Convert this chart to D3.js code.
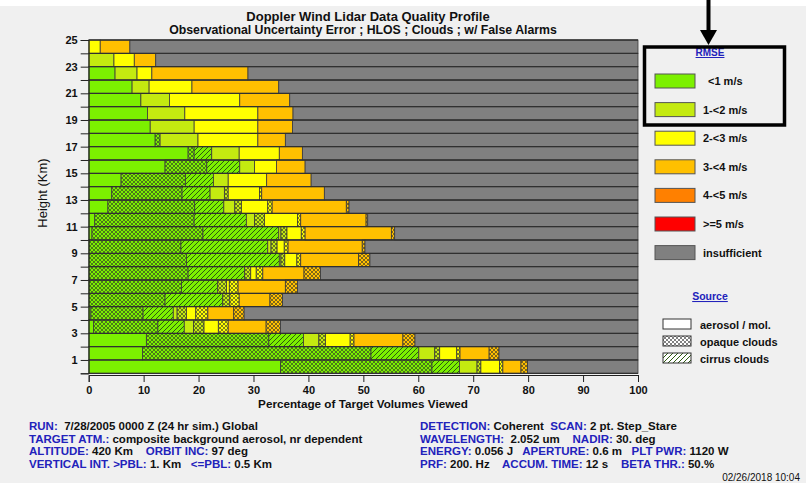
<!DOCTYPE html>
<html>
<head>
<meta charset="utf-8">
<script src="https://cdn.jsdelivr.net/npm/d3@7"></script>
<style>
  body { margin: 0; background: #fff; }
  text { font-family: "Liberation Sans", Arial, sans-serif; }
</style>
</head>
<body>
<div id="chart"></div>
<script>
// rows are 1 km height bins, bottom (0-1 km) first
var heights = d3.range(0, 25);

// percent of target volumes, per RMSE class and source
var green        = [34.9, 9.8, 10.5, 0.9, 0.4, 0, 0, 0, 0, 0, 0.6, 1.1, 3.5, 4.2, 5.9, 13.9, 18.1, 12.1, 11.2, 10.7, 9.5, 7.9, 4.8, 0, 0];
var greenOpaque  = [27.6, 41.6, 22.3, 11.7, 9.5, 13.9, 16.9, 18.1, 17.8, 16.8, 20.2, 18.1, 15.8, 12.8, 11.7, 7.6, 1.1, 0.9, 0, 0, 0, 0, 0, 0, 0];
var greenCirrus  = [5.0, 8.7, 6.3, 4.8, 5.5, 10.5, 6.6, 10.3, 16.9, 15.8, 13.8, 9.5, 5.3, 5.1, 5.1, 6.0, 3.2, 0, 0, 0, 0, 0, 0, 0, 0];
var ygreen       = [3.2, 2.9, 2.8, 1.7, 0.7, 0, 0, 0, 0.3, 0.6, 0.4, 1.5, 2.0, 2.6, 2.7, 2.7, 5.0, 6.9, 8.0, 6.8, 5.2, 3.1, 4.0, 4.6, 0];
var ygreenOpaque = [0.7, 0.9, 1.2, 1.9, 1.7, 1.3, 1.6, 1.1, 0.7, 1.1, 1.1, 1.8, 1.2, 0.7, 0, 0, 0, 0, 0, 0, 0, 0, 0, 0, 0];
var yellow       = [3.4, 3.1, 4.5, 2.6, 1.7, 0, 0.5, 1.0, 2.2, 1.3, 2.6, 6.0, 4.8, 5.7, 7.0, 4.0, 7.3, 10.9, 11.6, 13.3, 12.8, 7.8, 2.7, 3.7, 2.1];
var yellowOpaque = [0.6, 0.6, 0.7, 1.8, 2.2, 1.7, 1.6, 1.2, 0.7, 0.7, 0.7, 0.6, 0.8, 0.4, 0, 0, 0, 0, 0, 0, 0, 0, 0, 0, 0];
var orange       = [3.3, 5.3, 8.9, 6.9, 4.7, 5.6, 8.6, 7.5, 10.5, 13.5, 15.7, 11.9, 13.5, 11.4, 8.1, 5.2, 4.2, 5.0, 6.3, 6.4, 9.1, 15.8, 17.5, 3.9, 5.4];
var orangeOpaque = [1.2, 1.8, 2.2, 2.6, 1.9, 2.3, 2.2, 3.0, 2.1, 0.5, 0.6, 0.3, 0.5, 0, 0, 0, 0, 0, 0, 0, 0, 0, 0, 0, 0];

var xTicks = d3.range(0, 101, 10);
var rmseLabels = ["<1 m/s", "1-<2 m/s", "2-<3 m/s", "3-<4 m/s", "4-<5 m/s", ">=5 m/s", "insufficient"];
var rmseColors = ["#7cf000", "#c4ea10", "#ffff00", "#ffc000", "#ff8000", "#ff0000", "#808080"];
var sourceLabels = ["aerosol / mol.", "opaque clouds", "cirrus clouds"];

var series = [
  { key: "g",   values: green,        color: rmseColors[0], pat: null },
  { key: "gX",  values: greenOpaque,  color: rmseColors[0], pat: "opaque" },
  { key: "gD",  values: greenCirrus,  color: rmseColors[0], pat: "cirrus" },
  { key: "yg",  values: ygreen,       color: rmseColors[1], pat: null },
  { key: "ygX", values: ygreenOpaque, color: rmseColors[1], pat: "opaque" },
  { key: "y",   values: yellow,       color: rmseColors[2], pat: null },
  { key: "yX",  values: yellowOpaque, color: rmseColors[2], pat: "opaque" },
  { key: "o",   values: orange,       color: rmseColors[3], pat: null },
  { key: "oX",  values: orangeOpaque, color: rmseColors[3], pat: "opaque" }
];

var table = heights.map(function (h, i) {
  var row = { height: h }, sum = 0;
  series.forEach(function (s) { row[s.key] = s.values[i]; sum += s.values[i]; });
  row.ins = Math.max(0, 100 - sum);
  return row;
});
var keys = series.map(function (s) { return s.key; }).concat(["ins"]);
var byKey = {};
series.forEach(function (s) { byKey[s.key] = s; });
byKey.ins = { key: "ins", color: rmseColors[6], pat: null };

var width = 810, height = 483;
var svg = d3.select("#chart").append("svg")
  .attr("width", width)
  .attr("height", height);

svg.append("rect").attr("x", 0).attr("y", 6).attr("width", 806).attr("height", height - 6)
  .attr("fill", "#f0f0f0");

var defs = svg.append("defs");
function makePattern(id, color, type) {
  var p = defs.append("pattern").attr("id", id)
    .attr("patternUnits", "userSpaceOnUse");
  if (type == "opaque") {
    p.attr("width", 4).attr("height", 4);
    p.append("rect").attr("width", 4).attr("height", 4).attr("fill", color);
    p.append("path").attr("d", "M0,0L4,4M4,0L0,4")
      .attr("stroke", "#2a2a2a").attr("stroke-width", 0.6).attr("fill", "none");
  } else {
    p.attr("width", 5).attr("height", 5);
    p.append("rect").attr("width", 5).attr("height", 5).attr("fill", color);
    p.append("path").attr("d", "M0,5L5,0M-1,1L1,-1M4,6L6,4")
      .attr("stroke", "#2d5a10").attr("stroke-width", 1).attr("fill", "none");
  }
}
series.forEach(function (s) {
  if (s.pat) makePattern("p-" + s.key, s.color, s.pat);
});
makePattern("p-wX", "#ffffff", "opaque");
makePattern("p-wD", "#ffffff", "cirrus");

var x = d3.scaleLinear().domain([0, 100]).range([88.7, 638]);
var y = d3.scaleLinear().domain([0, 25]).range([373.3, 40]);

var stack = d3.stack().keys(keys);
var layers = stack(table);

var g = svg.append("g");
layers.forEach(function (layer) {
  var s = byKey[layer.key];
  g.selectAll(null)
    .data(layer.filter(function (d) { return d[1] - d[0] > 0; }))
    .enter().append("rect")
    .attr("x", function (d) { return x(d[0]); })
    .attr("y", function (d) { return y(d.data.height + 1); })
    .attr("width", function (d) { return x(d[1]) - x(d[0]); })
    .attr("height", function (d) { return y(d.data.height) - y(d.data.height + 1); })
    .attr("fill", s.pat ? "url(#p-" + s.key + ")" : s.color)
    .attr("stroke", "#3a3a3a")
    .attr("stroke-width", 0.8);
});

// row separators
g.selectAll(".sep")
  .data(d3.range(0, 26))
  .enter().append("line")
  .attr("x1", x(0)).attr("x2", x(100))
  .attr("y1", function (d) { return y(d); })
  .attr("y2", function (d) { return y(d); })
  .attr("stroke", "#303030").attr("stroke-width", 1.3);

// axes
var yAxis = d3.axisLeft(y).tickValues(d3.range(0, 26)).tickSize(8)
  .tickFormat(function (d) { return d % 2 == 1 ? d : ""; });
var ya = svg.append("g").attr("transform", "translate(" + x(0) + ",0)").call(yAxis);
ya.select(".domain").attr("stroke", "#222");
ya.selectAll(".tick line").attr("stroke", "#222");
ya.selectAll("text").attr("font-size", 11).attr("font-weight", "bold").attr("fill", "#111")
  .attr("font-family", "Liberation Sans, Arial, sans-serif");

var xAxis = d3.axisBottom(x).tickValues(xTicks).tickSize(7).tickPadding(4);
var xa = svg.append("g").attr("transform", "translate(0,375)").call(xAxis);
xa.select(".domain").attr("stroke", "#222");
xa.selectAll(".tick line").attr("stroke", "#222");
xa.selectAll("text").attr("font-size", 11).attr("font-weight", "bold").attr("fill", "#111")
  .attr("font-family", "Liberation Sans, Arial, sans-serif");

svg.append("text").attr("x", 363).attr("y", 408).attr("text-anchor", "middle")
  .attr("font-size", 11.7).attr("font-weight", "bold").attr("fill", "#111")
  .text("Percentage of Target Volumes Viewed");

svg.append("text").attr("transform", "translate(47,193) rotate(-90)")
  .attr("text-anchor", "middle").attr("font-size", 13).attr("fill", "#111")
  .text("Height (Km)");

// title
svg.append("text").attr("x", 368).attr("y", 20.5).attr("text-anchor", "middle")
  .attr("font-size", 13).attr("font-weight", "bold").attr("fill", "#111")
  .text("Doppler Wind Lidar Data Quality Profile");
svg.append("text").attr("x", 363).attr("y", 33.5).attr("text-anchor", "middle")
  .attr("font-size", 12.3).attr("font-weight", "bold").attr("fill", "#111")
  .text("Observational Uncertainty Error ; HLOS ; Clouds ; w/ False Alarms");

// RMSE legend
var blue = "#2222bb";
svg.append("text").attr("x", 710).attr("y", 56).attr("text-anchor", "middle")
  .attr("font-size", 10).attr("font-weight", "bold").attr("fill", blue)
  .attr("text-decoration", "underline").text("RMSE");
var leg = svg.append("g").selectAll("g")
  .data(rmseLabels)
  .enter().append("g")
  .attr("transform", function (d, i) { return "translate(655," + (74 + i * 28.6) + ")"; });
leg.append("rect").attr("width", 40).attr("height", 14)
  .attr("fill", function (d, i) { return rmseColors[i]; })
  .attr("stroke", "#555").attr("stroke-width", 1);
leg.append("text").attr("x", function (d, i) { return i == 0 ? 53 : 48; }).attr("y", 11)
  .attr("font-size", 11).attr("font-weight", "bold").attr("fill", "#111")
  .text(function (d) { return d; });

// source legend
svg.append("text").attr("x", 710).attr("y", 300).attr("text-anchor", "middle")
  .attr("font-size", 10.5).attr("font-weight", "bold").attr("fill", blue)
  .attr("text-decoration", "underline").text("Source");
var sleg = svg.append("g").selectAll("g")
  .data(sourceLabels)
  .enter().append("g")
  .attr("transform", function (d, i) { return "translate(663," + (319 + i * 17) + ")"; });
sleg.append("rect").attr("width", 28).attr("height", 10)
  .attr("fill", function (d, i) { return ["#ffffff", "url(#p-wX)", "url(#p-wD)"][i]; })
  .attr("stroke", "#333").attr("stroke-width", 1);
sleg.append("text").attr("x", 37).attr("y", 9.5)
  .attr("font-size", 11).attr("font-weight", "bold").attr("fill", "#111")
  .text(function (d) { return d; });

// highlight box and arrow
svg.append("rect").attr("x", 644.5).attr("y", 47).attr("width", 140).attr("height", 78)
  .attr("fill", "none").attr("stroke", "#000").attr("stroke-width", 3.5);
svg.append("line").attr("x1", 708.5).attr("x2", 708.5).attr("y1", 0).attr("y2", 32)
  .attr("stroke", "#000").attr("stroke-width", 4);
svg.append("path").attr("d", "M700,30L717,30L708.5,45Z").attr("fill", "#000");

// run info
var info = [
  [29, 430, "RUN:", "  7/28/2005 0000 Z (24 hr sim.) Global"],
  [29, 442.5, "TARGET ATM.:", " composite background aerosol, nr dependent"],
  [29, 455, "ALTITUDE:", " 420 Km    ", "ORBIT INC:", " 97 deg"],
  [29, 467.5, "VERTICAL INT. >PBL:", " 1. Km   ", "<=PBL:", " 0.5 Km"],
  [420, 430, "DETECTION:", " Coherent  ", "SCAN:", " 2 pt. Step_Stare"],
  [420, 442.5, "WAVELENGTH:", "  2.052 um    ", "NADIR:", " 30. deg"],
  [420, 455, "ENERGY:", " 0.056 J   ", "APERTURE:", " 0.6 m   ", "PLT PWR:", " 1120 W"],
  [420, 467.5, "PRF:", " 200. Hz    ", "ACCUM. TIME:", " 12 s    ", "BETA THR.:", " 50.%"]
];
info.forEach(function (line) {
  var t = svg.append("text").attr("x", line[0]).attr("y", line[1])
    .attr("font-size", 11.5).attr("font-weight", "bold")
    .attr("xml:space", "preserve").style("white-space", "pre");
  line.slice(2).forEach(function (s, i) {
    t.append("tspan").attr("fill", i % 2 == 0 ? blue : "#111").text(s);
  });
});
svg.append("text").attr("x", 800).attr("y", 481).attr("text-anchor", "end")
  .attr("font-size", 10).attr("fill", "#111").text("02/26/2018 10:04");
</script>
</body>
</html>
